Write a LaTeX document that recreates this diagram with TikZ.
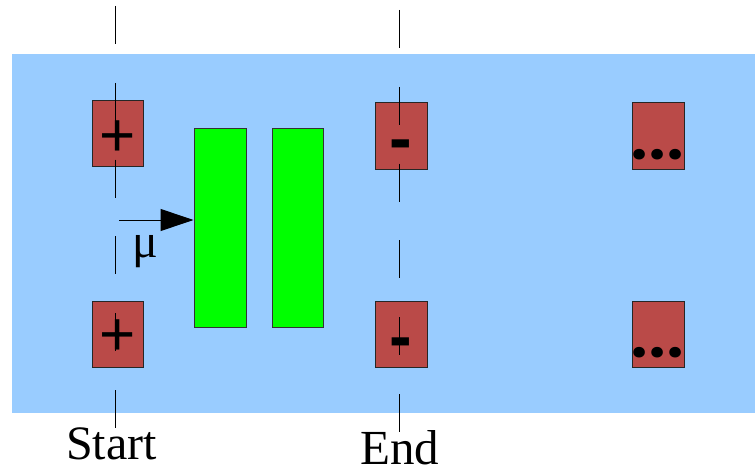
\documentclass[tikz,border=0pt]{standalone}
\usepackage{fontspec}
\setmainfont{Liberation Serif}
\newfontfamily\symfont{Liberation Sans}
\newfontfamily\dotfont[LetterSpace=3.2]{Poppins}
\usetikzlibrary{arrows.meta}
\definecolor{bgblue}{HTML}{99CCFF}
\definecolor{boxred}{RGB}{186,74,72}
\definecolor{bargreen}{HTML}{00FF00}
\begin{document}
\begin{tikzpicture}[x=1pt,y=-1pt,
  cell/.style={draw=black!85,fill=boxred,line width=1pt,minimum width=51pt,minimum height=66pt,inner sep=0pt},
  bar/.style={draw=black!80,fill=bargreen,line width=1pt,minimum width=52pt,minimum height=198pt,inner sep=0pt},
  plussym/.style={inner sep=0pt,anchor=base,font=\symfont\fontsize{62}{62}\selectfont},
  minussym/.style={inner sep=0pt,anchor=base,font=\symfont\bfseries\fontsize{68}{68}\selectfont},
  dotsym/.style={inner sep=0pt,anchor=base,font=\dotfont\bfseries\fontsize{57}{57}\selectfont},
  txtlabel/.style={inner sep=0pt,anchor=base west,font=\fontsize{48}{48}\selectfont},
  guide/.style={line width=1pt,dash pattern=on 38pt off 38.8pt},
  push/.style={line width=1pt,-{Triangle[length=33pt,width=22pt]}}
]
\useasboundingbox (0,0) rectangle (755,468);
\fill[bgblue] (12,54) rectangle (755,413);
% red cells
\node[cell] (l1) at (117.5,134) {};
\node[cell] (l2) at (117.5,334) {};
\node[cell,minimum width=52pt] (e1) at (401,136) {};
\node[cell,minimum width=52pt] (e2) at (401,334) {};
\node[cell,minimum width=52pt] (r1) at (658,136) {};
\node[cell,minimum width=52pt] (r2) at (658,334) {};
% green bars
\node[bar] (g1) at (220,228) {};
\node[bar,minimum width=51pt] (g2) at (297.5,228) {};
% guide lines
\coordinate (s1) at (115,6);
\coordinate (s2) at (115,428);
\coordinate (t1) at (399.5,10);
\coordinate (t2) at (399.5,432);
\draw[guide] (s1) -- (s2);
\draw[guide] (t1) -- (t2);
% arrow
\coordinate (a0) at (119,220);
\draw[push] (a0) -- (a0 -| g1.west);
% symbols
\node[plussym] (p1) at (117.3,156.8) {+};
\node[plussym] (p2) at (117.3,355.8) {+};
\node[minussym] (m1) at (400.7,161.7) {-};
\node[minussym] (m2) at (400.7,359.7) {-};
\node[dotsym] (d1) at (657.5,160) {...};
\node[dotsym] (d2) at (657.5,357.5) {...};
% labels
\node[txtlabel] (mu) at (132,257) {μ};
\node[txtlabel] (start) at (66,459) {Start};
\node[txtlabel,font=\fontsize{49}{49}\selectfont] (end) at (360,464) {End};
\end{tikzpicture}
\end{document}
